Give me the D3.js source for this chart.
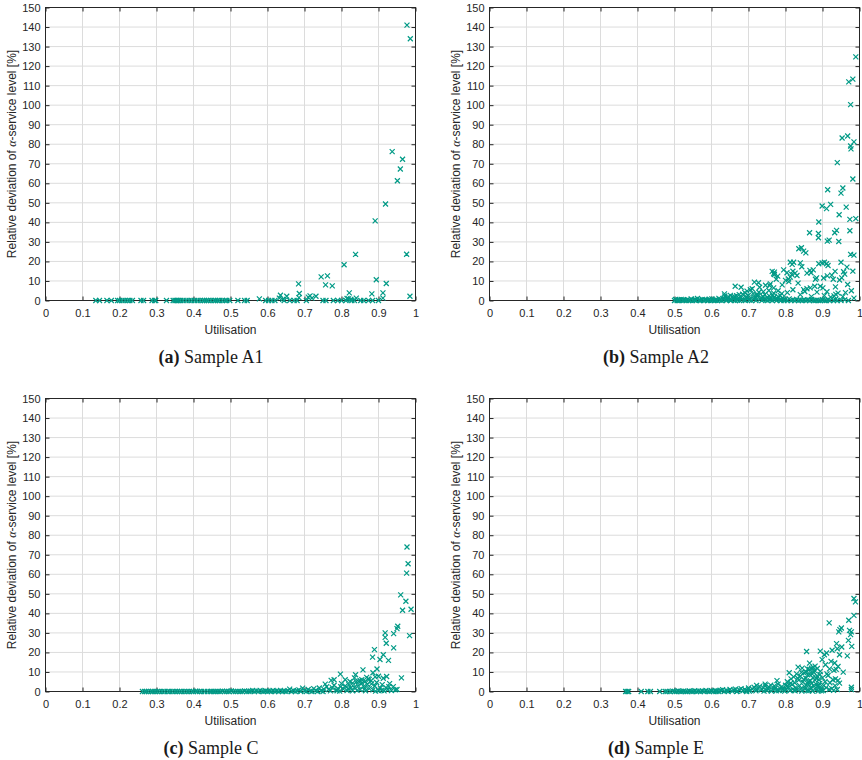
<!DOCTYPE html>
<html>
<head>
<meta charset="utf-8">
<script src="https://cdn.jsdelivr.net/npm/d3@7"></script>
<style>
  body { margin: 0; background: #fff; }
  svg { display: block; }
</style>
</head>
<body>
<svg id="fig" width="862" height="760"></svg>
<script>
// tick values / labels shared by all four panels
const xTickVals = [0, 0.1, 0.2, 0.3, 0.4, 0.5, 0.6, 0.7, 0.8, 0.9, 1];
const xTickLabels = ['0', '0.1', '0.2', '0.3', '0.4', '0.5', '0.6', '0.7', '0.8', '0.9', '1'];
const yTickVals = [0, 10, 20, 30, 40, 50, 60, 70, 80, 90, 100, 110, 120, 130, 140, 150];
const xLabel = 'Utilisation';

// [utilisation, relative deviation %]
const sampleA1 = [
  [0.136,0],[0.146,0],[0.166,0],[0.178,0],[0.195,0],[0.2,0],[0.207,0],[0.215,0],[0.222,0],[0.228,0],
  [0.235,0],[0.258,0],[0.265,0],[0.288,0],[0.295,0],[0.298,0],[0.327,0],[0.345,0],[0.35,0],[0.353,0],
  [0.356,0],[0.36,0],[0.365,0],[0.372,0],[0.38,0],[0.388,0],[0.395,0],[0.403,0],[0.41,0],[0.418,0],
  [0.425,0],[0.43,0],[0.435,0],[0.44,0],[0.447,0],[0.455,0],[0.46,0],[0.465,0],[0.47,0],[0.478,0],
  [0.485,0],[0.49,0],[0.498,0],[0.52,0],[0.538,0],[0.545,0],[0.595,0],[0.603,0],[0.612,0],[0.62,0],
  [0.645,0],[0.66,0],[0.672,0],[0.68,0],[0.705,0],[0.75,0],[0.758,0],[0.778,0],[0.79,0],[0.8,0],
  [0.812,0],[0.828,0],[0.835,0],[0.852,0],[0.86,0],[0.873,0],[0.884,0],[0.9,0],
  [0.578,0.8],[0.632,1.2],[0.635,2.7],[0.641,0.6],[0.652,2.2],[0.685,1.5],[0.686,3.6],[0.684,8.5],
  [0.71,1.7],[0.715,2.4],[0.72,1.2],[0.731,2.2],[0.745,12.1],[0.757,8.0],[0.762,12.6],[0.775,7.5],
  [0.807,18.3],[0.815,1.0],[0.819,0.8],[0.821,3.9],[0.825,0.5],[0.838,23.6],[0.84,1.2],[0.882,3.4],
  [0.891,40.8],[0.894,10.6],[0.912,3.9],[0.912,1.2],[0.919,49.4],[0.921,8.7],[0.937,76.2],[0.951,61.3],
  [0.959,67.3],[0.965,72.3],[0.976,23.7],[0.977,141],[0.985,2.2],[0.986,134]
];

const sampleA2 = [
  [0.990,124.7],[0.982,113.3],[0.971,111.9],[0.976,100.3],[0.953,83.2],[0.968,84.2],[0.985,81.2],
  [0.976,79.1],[0.977,77.6],[0.940,70.6],[0.982,62.2],[0.914,56.7],[0.955,57.6],[0.950,55.0],
  [0.899,48.4],[0.922,49.2],[0.911,47.0],[0.964,47.8],[0.945,43.9],[0.974,41.5],[0.990,41.9],
  [0.890,40.2],[0.865,34.7],[0.889,34.3],[0.889,32.1],[0.933,34.7],[0.938,35.9],[0.974,35.7],
  [0.913,30.4],[0.918,30.9],[0.944,30.2],[0.836,26.5],[0.843,27.0],[0.849,25.3],[0.855,24.4],
  [0.976,23.6],[0.985,23.2],
  [0.813,19.6],[0.822,19.6],[0.818,18.5],[0.840,19.3],[0.844,17.3],[0.899,19.3],[0.905,19.6],
  [0.911,18.8],[0.915,17.9],[0.950,19.6],[0.890,18.8],[0.795,15.7],[0.770,14.5],[0.770,13.3],
  [0.804,14.2],[0.817,13.3],[0.826,14.0],[0.831,12.8],[0.813,12.0],[0.820,15.0],[0.808,11.0],
  [0.875,15.7],[0.858,14.0],[0.866,15.4],[0.966,17.1],[0.934,14.9],[0.982,15.0],[0.957,14.7],
  [0.952,11.6],[0.884,11.6],[0.913,12.6],[0.929,10.9],[0.779,12.5],[0.809,9.7],[0.834,8.9],
  [0.791,8.0],[0.757,7.7],[0.768,6.5],[0.716,9.4],[0.727,9.1],[0.730,6.8],[0.664,7.3],[0.680,6.8],
  [0.705,5.5],[0.879,7.3],[0.894,7.3],[0.901,6.5],[0.968,8.2],[0.978,5.0],[0.885,4.3],[0.858,6.0],
  [0.852,4.6],[0.942,3.8],[0.936,3.1],[0.931,2.4],[0.922,1.7],[0.985,1.2],[0.635,3.4],[0.651,2.6],
  [0.696,4.8],[0.755,5.1],[0.746,7.8],[0.759,8.5],[0.764,14.9],[0.768,13.7],[0.775,10.9],[0.800,10.3],
  [0.869,14.2],[0.881,10.9],[0.867,6.5],[0.849,5.6],[0.903,11.5],[0.925,13.0],[0.946,10.5],[0.960,13.5],
  [0.935,7.0],[0.912,4.5],[0.955,2.0],[0.962,4.0],[0.905,2.5],[0.870,2.0],[0.840,3.0],[0.820,5.5],
  [0.805,4.0],[0.790,3.5],[0.780,5.0],[0.765,2.8],[0.740,4.5],[0.725,3.0],[0.710,6.0],[0.690,4.0],
  [0.675,3.0],[0.660,1.5],[0.645,2.0],[0.720,1.5],
  [0.500,0],[0.503,0.5],[0.507,0],[0.511,0.3],[0.514,0],[0.518,0.6],[0.522,0],[0.527,0.2],[0.531,0],
  [0.535,0.4],[0.539,0],[0.545,0.8],[0.549,0],[0.553,0.3],[0.558,0],[0.562,1.0],[0.566,0.2],[0.571,0],
  [0.575,0.5],[0.579,0],[0.585,0.3],[0.589,0],[0.594,0.7],[0.598,0],[0.603,0.2],[0.607,0],[0.612,0.6],
  [0.616,0],[0.620,1.1],[0.624,0.3],[0.628,0],[0.632,0.5],[0.636,2.3],[0.640,0],[0.644,1.2],[0.648,0.4],
  [0.652,0],[0.656,1.8],[0.660,0.6],[0.664,0],[0.668,2.5],[0.672,0.9],[0.676,0],[0.680,1.5],[0.684,3.2],
  [0.688,0.2],[0.692,0],[0.696,1.0],[0.700,2.6],[0.704,0.5],[0.708,0],[0.712,3.5],[0.716,1.4],[0.720,0],
  [0.724,2.1],[0.728,4.2],[0.732,0.7],[0.736,0],[0.740,1.8],[0.744,3.0],[0.748,0.3],[0.752,0],[0.756,2.4],
  [0.760,1.1],[0.764,0],[0.768,3.8],[0.772,0.6],[0.776,0],[0.780,2.0],[0.784,0.4],[0.788,0],[0.792,1.3],
  [0.796,0],[0.800,0.5],[0.805,0],[0.810,0.8],[0.815,0],[0.820,0.3],[0.825,0],[0.830,0.6],[0.835,0],
  [0.840,0.2],[0.845,0],[0.850,0.4],[0.855,0],[0.860,0.3],[0.865,0],[0.870,0.5],[0.875,0],[0.880,0],
  [0.885,0.2],[0.890,0],[0.895,0],[0.900,0.4],[0.905,0],[0.910,0],[0.915,0.3],[0.920,0],[0.930,0],
  [0.935,0.5],[0.940,0],[0.950,0],[0.960,0.3],[0.970,0],
  [0.509,0.1],[0.524,0.4],[0.543,0.1],[0.556,0.5],[0.568,0.1],[0.582,0.4],[0.592,0.1],[0.601,0.8],
  [0.610,0.1],[0.622,0.2],[0.634,1.0],[0.642,0.5],[0.654,0.3],[0.662,2.0],[0.670,0.1],[0.682,0.6],
  [0.694,1.9],[0.702,0.2],[0.714,0.8],[0.722,2.8],[0.734,1.5],[0.742,0.6],[0.750,1.6],[0.758,0.4],
  [0.770,1.8],[0.778,0.9],[0.786,2.5],[0.794,0.6]
];

const sampleC = [
  [0.977,74.0],[0.980,65.4],[0.976,60.6],[0.960,49.5],[0.974,46.2],[0.965,41.6],[0.988,42.1],
  [0.952,33.4],[0.950,32.2],[0.941,29.6],[0.984,28.6],[0.918,30.0],[0.918,27.7],[0.921,24.7],
  [0.941,22.3],[0.889,21.4],[0.913,18.8],[0.884,17.6],[0.904,16.4],[0.927,15.9],[0.896,11.5],
  [0.858,11.1],[0.797,8.9],[0.838,8.6],[0.885,9.6],[0.891,7.5],[0.962,7.0],[0.922,7.7],[0.913,6.8],
  [0.772,5.7],[0.756,3.8],[0.823,5.1],[0.830,4.3],[0.850,5.7],[0.864,5.1],[0.868,7.2],[0.875,6.2],
  [0.881,3.9],[0.950,1.0],[0.695,1.7],
  [0.760,2.5],[0.765,1.0],[0.770,0.3],[0.775,2.0],[0.780,3.2],[0.785,0.8],[0.790,1.5],[0.795,0.2],
  [0.800,4.0],[0.805,1.2],[0.810,2.8],[0.815,0.5],[0.820,3.5],[0.825,1.8],[0.830,0.3],[0.835,2.2],
  [0.840,5.0],[0.845,3.0],[0.850,1.0],[0.855,4.2],[0.860,2.5],[0.865,0.4],[0.870,3.6],[0.875,1.5],
  [0.880,5.5],[0.885,0.8],[0.890,2.8],[0.895,4.6],[0.900,0.5],[0.905,1.8],[0.910,3.5],[0.915,0.3],
  [0.920,2.0],[0.925,1.0],[0.930,4.0],[0.935,0.5],[0.940,2.5],[0.945,0.8],[0.900,7.8],[0.872,6.5],
  [0.855,6.0],[0.846,5.2],[0.810,6.0],[0.780,6.0],[0.835,7.0],[0.892,0.2],[0.908,0.6],[0.928,2.5],
  [0.862,1.2],[0.842,0.6],[0.818,1.5],[0.798,2.5],[0.788,0.4],[0.752,1.2],[0.745,0.3],
  [0.262,0],[0.268,0],[0.272,0],[0.278,0],[0.285,0],[0.290,0],[0.296,0],[0.302,0],[0.308,0],[0.315,0],
  [0.322,0],[0.330,0],[0.336,0],[0.343,0],[0.350,0],[0.356,0],[0.362,0],[0.368,0],[0.375,0],[0.382,0],
  [0.388,0],[0.395,0],[0.400,0],[0.406,0.2],[0.410,0],[0.416,0],[0.422,0],[0.430,0],[0.438,0],[0.445,0],
  [0.450,0.1],[0.455,0],[0.460,0],[0.466,0],[0.472,0],[0.478,0.2],[0.484,0],[0.490,0],[0.496,0],[0.502,0.3],
  [0.508,0],[0.514,0],[0.520,0.1],[0.526,0],[0.532,0],[0.538,0.3],[0.544,0],[0.550,0],[0.555,0.2],[0.560,0.5],
  [0.565,0],[0.570,0.3],[0.575,0],[0.580,0.6],[0.585,0.1],[0.590,0],[0.595,0.4],[0.600,0],[0.605,0.2],[0.610,0],
  [0.615,0.5],[0.620,0],[0.625,0.3],[0.630,0],[0.635,0.6],[0.640,0],[0.645,0.2],[0.650,0],[0.655,0.4],[0.660,1.2],
  [0.665,0],[0.670,0.5],[0.675,0],[0.680,0.3],[0.685,0.8],[0.690,0],[0.700,0.4],[0.705,0],[0.710,1.0],[0.715,0.2],
  [0.720,0],[0.725,1.5],[0.730,0.5],[0.735,0],[0.740,1.8],[0.750,0]
];

const sampleE = [
  [0.368,0],[0.372,0],[0.376,0],[0.410,0],[0.428,0],[0.435,0],[0.460,0],[0.475,0],[0.480,0],[0.488,0],
  [0.495,0.2],[0.500,0],[0.505,0],[0.510,0.3],[0.515,0],[0.520,0],[0.525,0.2],[0.530,0],[0.535,0],[0.540,0.3],
  [0.545,0],[0.550,0],[0.555,0.4],[0.560,0],[0.565,0.2],[0.570,0],[0.575,0.3],[0.580,0],[0.585,0.5],[0.590,0.1],
  [0.595,0],[0.600,0.4],[0.605,0],[0.610,0.6],[0.615,0.2],[0.620,0],[0.625,0.5],[0.630,0.9],[0.635,0.1],[0.640,0.6],
  [0.645,0],[0.650,1.0],[0.655,0.3],[0.660,0.7],[0.665,1.2],[0.670,0.2],[0.675,0.9],[0.680,1.5],[0.685,0.4],[0.690,1.1],
  [0.695,0],[0.700,1.8],[0.705,0.6],[0.710,1.3],[0.715,2.2],[0.720,0.3],[0.725,1.6],[0.730,2.6],[0.735,0.8],[0.740,1.9],
  [0.745,3.0],[0.750,0.5],[0.755,2.4],[0.760,3.3],[0.765,1.2],[0.770,2.8],[0.775,0.4],[0.780,3.8],[0.785,1.6],[0.790,2.5],
  [0.795,0.7],[0.800,3.2],[0.612,0],[0.642,0.3],[0.668,0],[0.692,0.5],[0.702,0.2],[0.722,1.0],[0.742,0.2],[0.752,1.4],
  [0.762,0.2],[0.772,1.6],[0.782,0.5],[0.792,1.2],[0.798,0.2],[0.777,5.6],[0.745,3.8],[0.722,3.1],
  [0.802,1.0],[0.805,5.0],[0.808,2.2],[0.810,9.6],[0.812,0.5],[0.815,6.5],[0.818,3.5],[0.820,1.2],[0.822,7.5],
  [0.825,4.5],[0.828,2.0],[0.830,9.0],[0.832,0.8],[0.834,12.5],[0.836,5.8],[0.838,3.0],[0.840,7.8],[0.842,1.5],
  [0.845,12.0],[0.847,4.8],[0.850,9.5],[0.852,2.5],[0.855,6.8],[0.857,20.5],[0.858,0.5],[0.860,8.5],[0.862,3.8],
  [0.865,11.3],[0.867,5.5],[0.870,1.5],[0.872,9.0],[0.874,7.0],[0.876,3.0],[0.878,10.8],[0.880,5.8],[0.882,0.8],
  [0.885,8.0],[0.887,2.5],[0.890,6.0],[0.892,4.0],[0.894,10.3],[0.894,20.7],[0.896,1.0],[0.899,16.3],[0.900,7.0],
  [0.903,3.0],[0.905,18.8],[0.907,5.0],[0.908,13.7],[0.911,19.7],[0.912,9.0],[0.915,8.2],[0.918,35.1],[0.918,1.0],
  [0.919,11.6],[0.920,4.5],[0.923,15.4],[0.926,21.1],[0.928,6.0],[0.931,10.8],[0.933,14.6],[0.935,6.5],[0.937,11.3],
  [0.938,24.5],[0.940,21.9],[0.942,12.8],[0.942,5.7],[0.944,30.5],[0.946,18.8],[0.946,4.3],[0.947,31.7],[0.951,32.5],
  [0.952,22.8],[0.956,9.9],[0.967,18.2],[0.970,26.2],[0.971,36.5],[0.973,31.3],[0.976,29.1],[0.978,30.5],[0.979,23.1],
  [0.978,2.2],[0.978,1.0],[0.985,39.0],[0.985,47.6],[0.989,45.9],
  [0.826,0.3],[0.844,0.2],[0.853,1.2],[0.863,0.4],[0.868,2.0],[0.873,0.2],[0.884,3.5],[0.888,0.2],[0.891,1.8],
  [0.897,0.3],[0.902,0.5],[0.910,2.0],[0.925,1.5],[0.930,0.6],[0.934,3.0],[0.940,1.0],[0.865,14.5],[0.870,12.0],
  [0.880,13.0],[0.860,11.5],[0.875,12.3],[0.855,10.0],
  [0.804,2.8],[0.814,4.2],[0.824,0.6],[0.833,6.8],[0.843,9.8],[0.849,6.2],[0.856,3.3],[0.861,5.0],[0.866,8.8],
  [0.871,4.2],[0.877,9.8],[0.883,6.8],[0.886,11.8],[0.889,3.2],[0.893,8.6]
];

// layout of the four sub-figures
const panels = [
  { data: sampleA1, letter: '(a)', name: ' Sample A1', left: 45.5, top: 7.5, capX: 211 },
  { data: sampleA2, letter: '(b)', name: ' Sample A2', left: 489.5, top: 7.5, capX: 656 },
  { data: sampleC, letter: '(c)', name: ' Sample C', left: 45.5, top: 398.5, capX: 211 },
  { data: sampleE, letter: '(d)', name: ' Sample E', left: 489.5, top: 398.5, capX: 656 }
];

const W = 370, H = 293;
const axisColor = '#262626';
const markColor = '#009a86';
const sans = '"Liberation Sans", Arial, Helvetica, sans-serif';
const serif = '"Liberation Serif", "Times New Roman", serif';

const svg = d3.select('#fig');

panels.forEach(drawPanel);

function drawPanel(p) {
    const x = d3.scaleLinear().domain([0, 1]).range([p.left, p.left + W]);
    const y = d3.scaleLinear().domain([0, 150]).range([p.top + H, p.top]);
    const g = svg.append('g');

    // grid
    g.append('g')
        .selectAll('line')
        .data(xTickVals.slice(1, -1))
        .join('line')
        .attr('x1', (d) => x(d))
        .attr('x2', (d) => x(d))
        .attr('y1', p.top)
        .attr('y2', p.top + H)
        .attr('stroke', '#dcdcdc');
    g.append('g')
        .selectAll('line')
        .data(yTickVals.slice(1, -1))
        .join('line')
        .attr('x1', p.left)
        .attr('x2', p.left + W)
        .attr('y1', (d) => y(d))
        .attr('y2', (d) => y(d))
        .attr('stroke', '#dcdcdc');

    // axes, ticks pointing inward (on all four sides)
    const styleAxis = (sel) => {
        sel.select('.domain').remove();
        sel.attr('font-family', sans).attr('font-size', 11);
        sel.selectAll('line').attr('stroke', axisColor);
        sel.selectAll('text').attr('fill', axisColor);
    };
    g.append('g')
        .attr('transform', `translate(0,${p.top + H})`)
        .call(d3.axisBottom(x).tickValues(xTickVals)
            .tickFormat((d, i) => xTickLabels[i])
            .tickSize(-4).tickPadding(9))
        .call(styleAxis);
    g.append('g')
        .attr('transform', `translate(0,${p.top})`)
        .call(d3.axisTop(x).tickValues(xTickVals).tickFormat('').tickSize(-4))
        .call(styleAxis);
    g.append('g')
        .attr('transform', `translate(${p.left},0)`)
        .call(d3.axisLeft(y).tickValues(yTickVals).tickSize(-4).tickPadding(5))
        .call(styleAxis);
    g.append('g')
        .attr('transform', `translate(${p.left + W},0)`)
        .call(d3.axisRight(y).tickValues(yTickVals).tickFormat('').tickSize(-4))
        .call(styleAxis);

    g.append('rect')
        .attr('x', p.left)
        .attr('y', p.top)
        .attr('width', W)
        .attr('height', H)
        .attr('fill', 'none')
        .attr('stroke', axisColor);

    // markers
    const cross = d3.symbol(d3.symbolX).size(18);
    g.append('g')
        .selectAll('path')
        .data(p.data)
        .join('path')
        .attr('d', cross)
        .attr('transform', (d) => `translate(${x(d[0])},${y(d[1])})`)
        .attr('fill', 'none')
        .attr('stroke', markColor)
        .attr('stroke-width', 1.2);

    // axis titles
    g.append('text')
        .attr('x', p.left + W / 2)
        .attr('y', p.top + H + 33)
        .attr('text-anchor', 'middle')
        .attr('font-family', sans)
        .attr('font-size', 12)
        .attr('fill', axisColor)
        .text(xLabel);

    const yl = g.append('text')
        .attr('transform', `translate(${p.left - 29.5},${p.top + H / 2}) rotate(-90)`)
        .attr('text-anchor', 'middle')
        .attr('font-family', sans)
        .attr('font-size', 12)
        .attr('fill', axisColor);
    yl.append('tspan').text('Relative deviation of ');
    yl.append('tspan').attr('font-family', serif).attr('font-style', 'italic').text('α');
    yl.append('tspan').text('-service level [%]');

    // sub-figure caption
    const cap = g.append('text')
        .attr('x', p.capX)
        .attr('y', p.top + H + 62.5)
        .attr('text-anchor', 'middle')
        .attr('font-family', serif)
        .attr('font-size', 18)
        .attr('fill', '#1a1a1a');
    cap.append('tspan').attr('font-weight', 'bold').text(p.letter);
    cap.append('tspan').text(p.name);
}
</script>
</body>
</html>
